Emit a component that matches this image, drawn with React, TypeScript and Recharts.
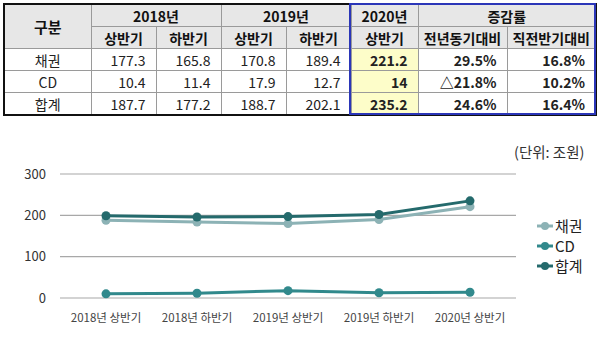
import React from "react";
import { LineChart, Line, XAxis, YAxis, CartesianGrid, Legend } from "recharts";

const periods = ["2018년 상반기", "2018년 하반기", "2019년 상반기", "2019년 하반기", "2020년 상반기"];
const bondValues = [188, 184, 180, 190, 221];
const cdValues = [10, 11.5, 17.8, 12.7, 14];
const totalValues = [199, 196, 197, 202, 235];
const yTicks = [0, 100, 200, 300];

const tableRows = ["채권", "CD", "합계"];
const tableValues = [
  ["177.3", "165.8", "170.8", "189.4", "221.2", "29.5%", "16.8%"],
  ["10.4", "11.4", "17.9", "12.7", "14", "△21.8%", "10.2%"],
  ["187.7", "177.2", "188.7", "202.1", "235.2", "24.6%", "16.4%"],
];

const seriesInfo = [
  { key: "bond", name: "채권", color: "#8cb2b5" },
  { key: "cd", name: "CD", color: "#31898c" },
  { key: "total", name: "합계", color: "#246a6c" },
];

const chartData = periods.map((p, i) => ({
  period: p,
  bond: bondValues[i],
  cd: cdValues[i],
  total: totalValues[i],
}));

const font = '"Noto Sans CJK KR", "Noto Sans", sans-serif';
const colWidths = [87, 65, 65, 65, 65, 67, 89, 89];
const grey = "#9a9a9a";
const headBg = "#e7e7e7";

const th: React.CSSProperties = {
  background: headBg,
  border: `1px solid ${grey}`,
  fontWeight: 700,
  textAlign: "center",
  padding: 0,
  height: 21,
  fontSize: 14,
  color: "#111",
};

const td: React.CSSProperties = {
  border: `1px solid ${grey}`,
  padding: "0 10px 0 0",
  height: 21,
  fontSize: 14,
  textAlign: "right",
  color: "#222",
};

function DataTable() {
  return (
    <div style={{ position: "absolute", left: 3, top: 3 }}>
      <table
        style={{
          borderCollapse: "collapse",
          tableLayout: "fixed",
          fontFamily: font,
          lineHeight: "20px",
          border: "2px solid #111",
        }}
      >
        <colgroup>
          {colWidths.map((w, i) => (
            <col key={i} style={{ width: w }} />
          ))}
        </colgroup>
        <thead>
          <tr>
            <th rowSpan={2} style={{ ...th, fontSize: 15 }}>구분</th>
            <th colSpan={2} style={th}>2018년</th>
            <th colSpan={2} style={th}>2019년</th>
            <th style={th}>2020년</th>
            <th colSpan={2} style={th}>증감률</th>
          </tr>
          <tr>
            <th style={th}>상반기</th>
            <th style={th}>하반기</th>
            <th style={th}>상반기</th>
            <th style={th}>하반기</th>
            <th style={th}>상반기</th>
            <th style={th}>전년동기대비</th>
            <th style={th}>직전반기대비</th>
          </tr>
        </thead>
        <tbody>
          {tableRows.map((r, ri) => (
            <tr key={r}>
              <td style={{ ...td, textAlign: "center", padding: 0 }}>{r}</td>
              {tableValues[ri].map((v, ci) => (
                <td
                  key={ci}
                  style={{
                    ...td,
                    background: ci === 4 ? "#fdfdc9" : "#fff",
                    fontWeight: ci >= 4 ? 700 : 400,
                  }}
                >
                  {v}
                </td>
              ))}
            </tr>
          ))}
        </tbody>
      </table>
      <div
        style={{
          position: "absolute",
          left: 346,
          top: 0,
          width: 247,
          height: 112,
          border: "2px solid #2b36b8",
          boxSizing: "border-box",
          pointerEvents: "none",
        }}
      />
    </div>
  );
}

function LegendBox() {
  return (
    <div style={{ fontFamily: font, fontSize: 15, color: "#222" }}>
      {seriesInfo.map((s) => (
        <div key={s.key} style={{ display: "flex", alignItems: "center", height: 20 }}>
          <svg width={16} height={10} style={{ marginRight: 2 }}>
            <line x1={0} y1={5} x2={16} y2={5} stroke={s.color} strokeWidth={3} />
            <circle cx={8} cy={5} r={4} fill={s.color} />
          </svg>
          <span style={{ display: "block", lineHeight: "16px", height: 16 }}>{s.name}</span>
        </div>
      ))}
    </div>
  );
}

export default function App() {
  return (
    <div
      style={{
        position: "absolute",
        left: 0,
        top: 0,
        width: 600,
        height: 353,
        background: "#fff",
        fontFamily: font,
      }}
    >
      <DataTable />
      <div
        style={{
          position: "absolute",
          left: 514,
          top: 141,
          fontSize: 14.5,
          color: "#333",
          fontFamily: font,
        }}
      >
        (단위: 조원)
      </div>
      <div style={{ position: "absolute", left: 0, top: 140 }}>
        <LineChart
          width={600}
          height={213}
          data={chartData}
          margin={{ top: 34, right: 84, bottom: 25, left: 0 }}
        >
          <CartesianGrid vertical={false} stroke="#a8a8a8" strokeWidth={1.2} />
          <XAxis
            dataKey="period"
            axisLine={false}
            tickLine={false}
            tickSize={0}
            tickMargin={16}
            height={30}
            interval={0}
            padding={{ left: 46, right: 46 }}
            tick={{ fontSize: 11.5, fill: "#444", fontFamily: font }}
          />
          <YAxis
            domain={[0, 300]}
            ticks={yTicks}
            axisLine={false}
            tickLine={false}
            tickSize={0}
            tickMargin={14}
            width={60}
            tick={{ fontSize: 13, fill: "#333", fontFamily: font }}
          />
          <Legend
            layout="vertical"
            align="center"
            verticalAlign="middle"
            wrapperStyle={{ left: 537, top: 76, width: 63 }}
            content={() => <LegendBox />}
          />
          {seriesInfo.map((s) => (
            <Line
              key={s.key}
              dataKey={s.key}
              name={s.name}
              stroke={s.color}
              strokeWidth={3}
              dot={{ r: 4.5, fill: s.color, stroke: s.color, strokeWidth: 0 }}
              activeDot={false}
              isAnimationActive={false}
            />
          ))}
        </LineChart>
      </div>
    </div>
  );
}
